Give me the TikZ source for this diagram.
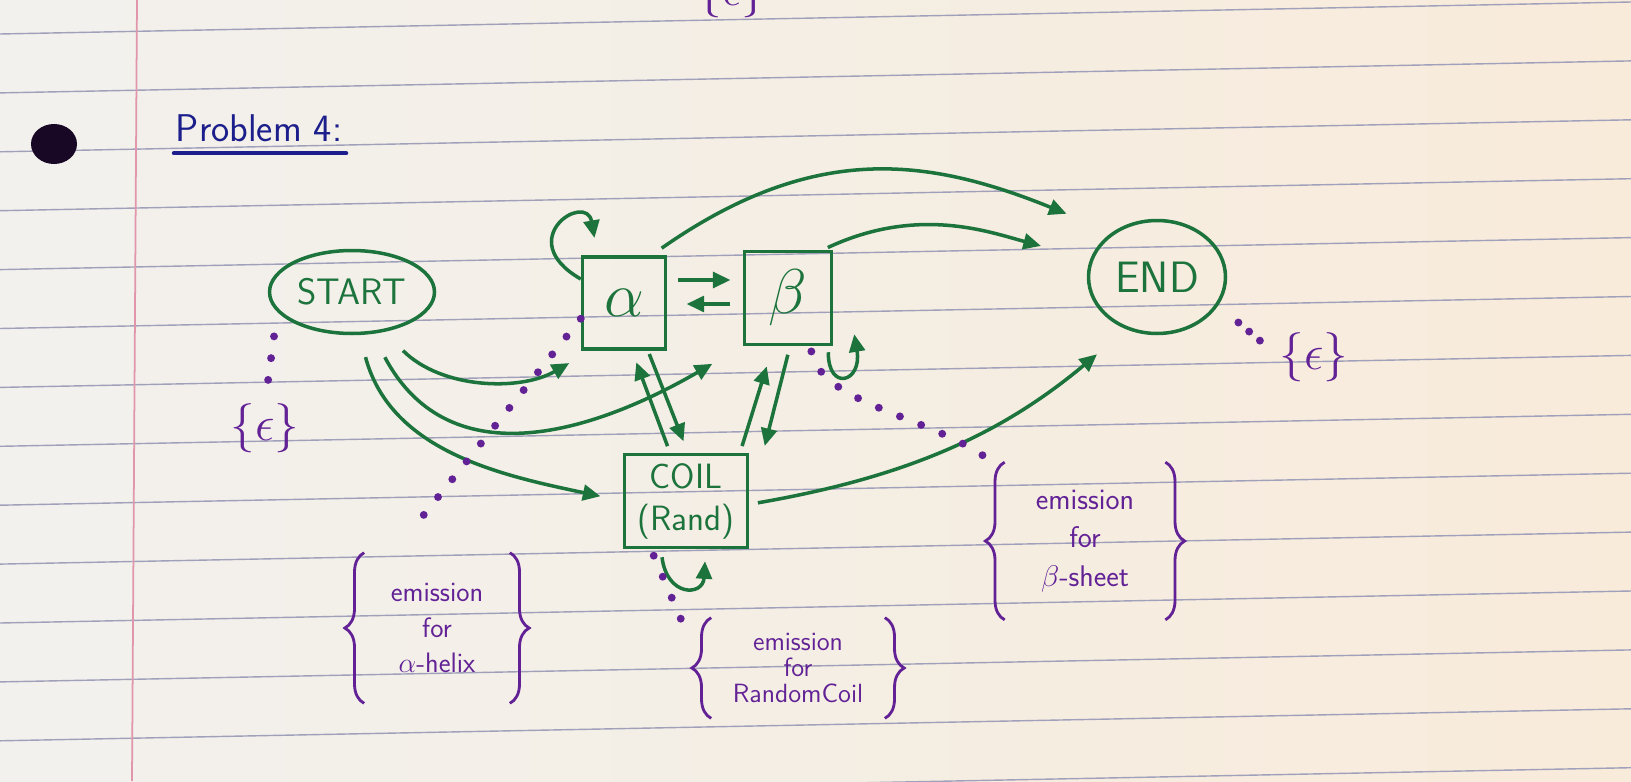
\RequirePackage{fix-cm}
\documentclass[tikz,border=0pt]{standalone}
\usetikzlibrary{shapes.geometric,arrows.meta,calc,decorations.pathreplacing}
\definecolor{ink}{RGB}{28,116,60}
\definecolor{emitcol}{RGB}{98,34,150}
\definecolor{pen}{RGB}{28,30,140}
\definecolor{paperL}{RGB}{242,241,238}
\definecolor{paperR}{RGB}{248,235,218}
\definecolor{rulecol}{RGB}{160,160,186}
\definecolor{margincol}{RGB}{226,150,172}
\begin{document}
\begin{tikzpicture}[x=0.02cm,y=0.02cm,font=\sffamily,
	arr/.style={ink,line width=2pt,-{Triangle[length=10pt,width=9pt]}},
	dots/.style={emitcol,line width=4.5pt,line cap=round,dash pattern=on 0pt off 13pt},
	oval/.style={ellipse,draw=ink,line width=2pt,text=ink,inner sep=1pt},
	box/.style={draw=ink,line width=2pt,text=ink,inner sep=1pt},
	emit/.style={text=emitcol,inner sep=0pt,align=center},
	curly/.style={emitcol,line width=1.6pt,decorate,decoration={brace,amplitude=11pt}},
	eps/.style={text=emitcol,inner sep=0pt,font=\fontsize{28}{28}\selectfont}]
	\useasboundingbox (0,0) rectangle (1631,-781);
	\clip (0,0) rectangle (1631,-781);
	% the sheet
	\shade[left color=paperL,right color=paperR] (0,0) rectangle (1631,-781);
	\foreach \k in {0,...,13}
		\draw[rulecol,line width=0.8pt] (0,{-34-58.9*\k}) -- ++(1631,32);
	\draw[margincol,line width=1pt] (137,0) -- (132,-781);
	\fill[black!75!emitcol] (54,-144) ellipse (23 and 20);
	% title
	\node[text=pen,inner sep=2pt,anchor=base west,font=\sffamily\fontsize{22}{22}\selectfont] (title) at (172,-141) {Problem 4:};
	\draw[pen,line width=2.5pt,line cap=round] ($(title.south west)+(2,-8)$) -- ($(title.south east)+(0,-8)$);
	% states
	\node[oval,minimum width=3.3cm,minimum height=1.66cm,font=\sffamily\fontsize{21}{21}\selectfont] (start) at (352,-292) {START};
	\node[box,minimum width=1.66cm,minimum height=1.84cm,font=\fontsize{36}{36}\selectfont] (alpha) at (624,-303) {$\alpha$};
	\node[box,minimum width=1.74cm,minimum height=1.86cm,font=\fontsize{36}{36}\selectfont] (beta) at (788,-298) {$\beta$};
	\node[box,minimum width=2.46cm,minimum height=1.86cm,align=center,font=\sffamily\fontsize{20}{24}\selectfont] (coil) at (686,-501) {COIL\\(Rand)};
	\node[oval,minimum width=2.74cm,minimum height=2.26cm,font=\sffamily\fontsize{25}{25}\selectfont] (endn) at (1157,-277) {END};
	% emissions
	\node[emit,minimum width=2.9cm,minimum height=3cm,font=\sffamily\fontsize{16}{20}\selectfont] (eA) at (437,-628) {emission\\for\\$\alpha$-helix};
	\node[emit,minimum width=3.2cm,minimum height=3.14cm,font=\sffamily\fontsize{17}{22}\selectfont] (eB) at (1085,-541) {emission\\for\\$\beta$-sheet};
	\node[emit,minimum width=3.46cm,minimum height=2cm,font=\sffamily\fontsize{15}{15}\selectfont] (eC) at (798,-668) {emission\\for\\RandomCoil};
	\foreach \e in {eA,eB,eC}{
		\draw[curly] (\e.south west) -- (\e.north west);
		\draw[curly] (\e.north east) -- (\e.south east);
	}
	\node[eps] (epsS) at (265,-428) {$\{\epsilon\}$};
	\node[eps] (epsE) at (1314,-357) {$\{\epsilon\}$};
	\node[eps] (epsT) at (732,7) {$\{\epsilon\}$};
	% transitions
	\draw[arr,shorten <=13pt,shorten >=13pt] (start.-80) to[out=-75,in=168] (coil.west);
	\draw[arr,shorten <=15pt,shorten >=20pt] (start.-64) to[out=-62,in=210,looseness=1.15] (beta.south west);
	\draw[arr,shorten <=15pt,shorten >=14pt] (start.-51) to[out=-45,in=210] (alpha.-125);
	\draw[arr,shorten >=10pt] (alpha.151) .. controls +(150:80) and +(100:65) .. (alpha.119);
	\draw[arr,shorten <=6pt,shorten >=7pt] ($(alpha.east)+(0,23)$) -- ($(beta.west)+(0,18)$);
	\draw[arr,shorten <=7pt,shorten >=11pt] ($(beta.west)+(0,-6)$) -- ($(alpha.east)+(0,-1)$);
	\draw[arr,shorten <=2pt,shorten >=7pt] ($(alpha.south)+(24,0)$) -- ($(coil.north)+(2,0)$);
	\draw[arr,shorten <=4pt,shorten >=7pt] ($(coil.north)+(-16,0)$) -- ($(alpha.south)+(8,0)$);
	\draw[arr,shorten <=4pt,shorten >=12pt] ($(coil.north)+(54,0)$) -- ($(beta.south)+(-15,0)$);
	\draw[arr,shorten <=5pt,shorten >=4pt] ($(beta.south)+(2,0)$) -- ($(coil.north)+(77,0)$);
	\draw[arr] ($(beta.south east)+(-5,-6)$) .. controls +(0,-40) and +(8,-48) .. ($(beta.south east)+(21,12)$);
	\draw[arr] ($(coil.south)+(-24,-8)$) .. controls +(5,-40) and +(-2,-35) .. ($(coil.south)+(19,-12)$);
	\draw[arr,shorten <=7pt,shorten >=28pt] (alpha.60) to[out=35,in=158,looseness=1.1] (endn.135);
	\draw[arr,shorten <=3pt,shorten >=29pt] (beta.54) to[out=25,in=165] (endn.165);
	\draw[arr,shorten <=5pt,shorten >=22pt] (coil.-3) to[bend right=15] (endn.-120);
	% emission links
	\draw[dots,shorten >=22pt] (alpha.200) -- (eA.120);
	\draw[dots,shorten <=3pt,shorten >=6pt] (beta.-65) .. controls +(10,-60) and +(-60,55) .. (eB.140);
	\draw[dots,shorten <=4pt,shorten >=6pt] (coil.-126) -- ($(eC.west)+(-20,25)$);
	\draw[dots,dash pattern=on 0pt off 12.5pt,shorten <=14pt,shorten >=10pt] (start.-165) -- (epsS.north);
	\draw[dots,dash pattern=on 0pt off 8pt,shorten <=15pt,shorten >=14pt] (endn.-25) -- (epsE.west);
\end{tikzpicture}
\end{document}
